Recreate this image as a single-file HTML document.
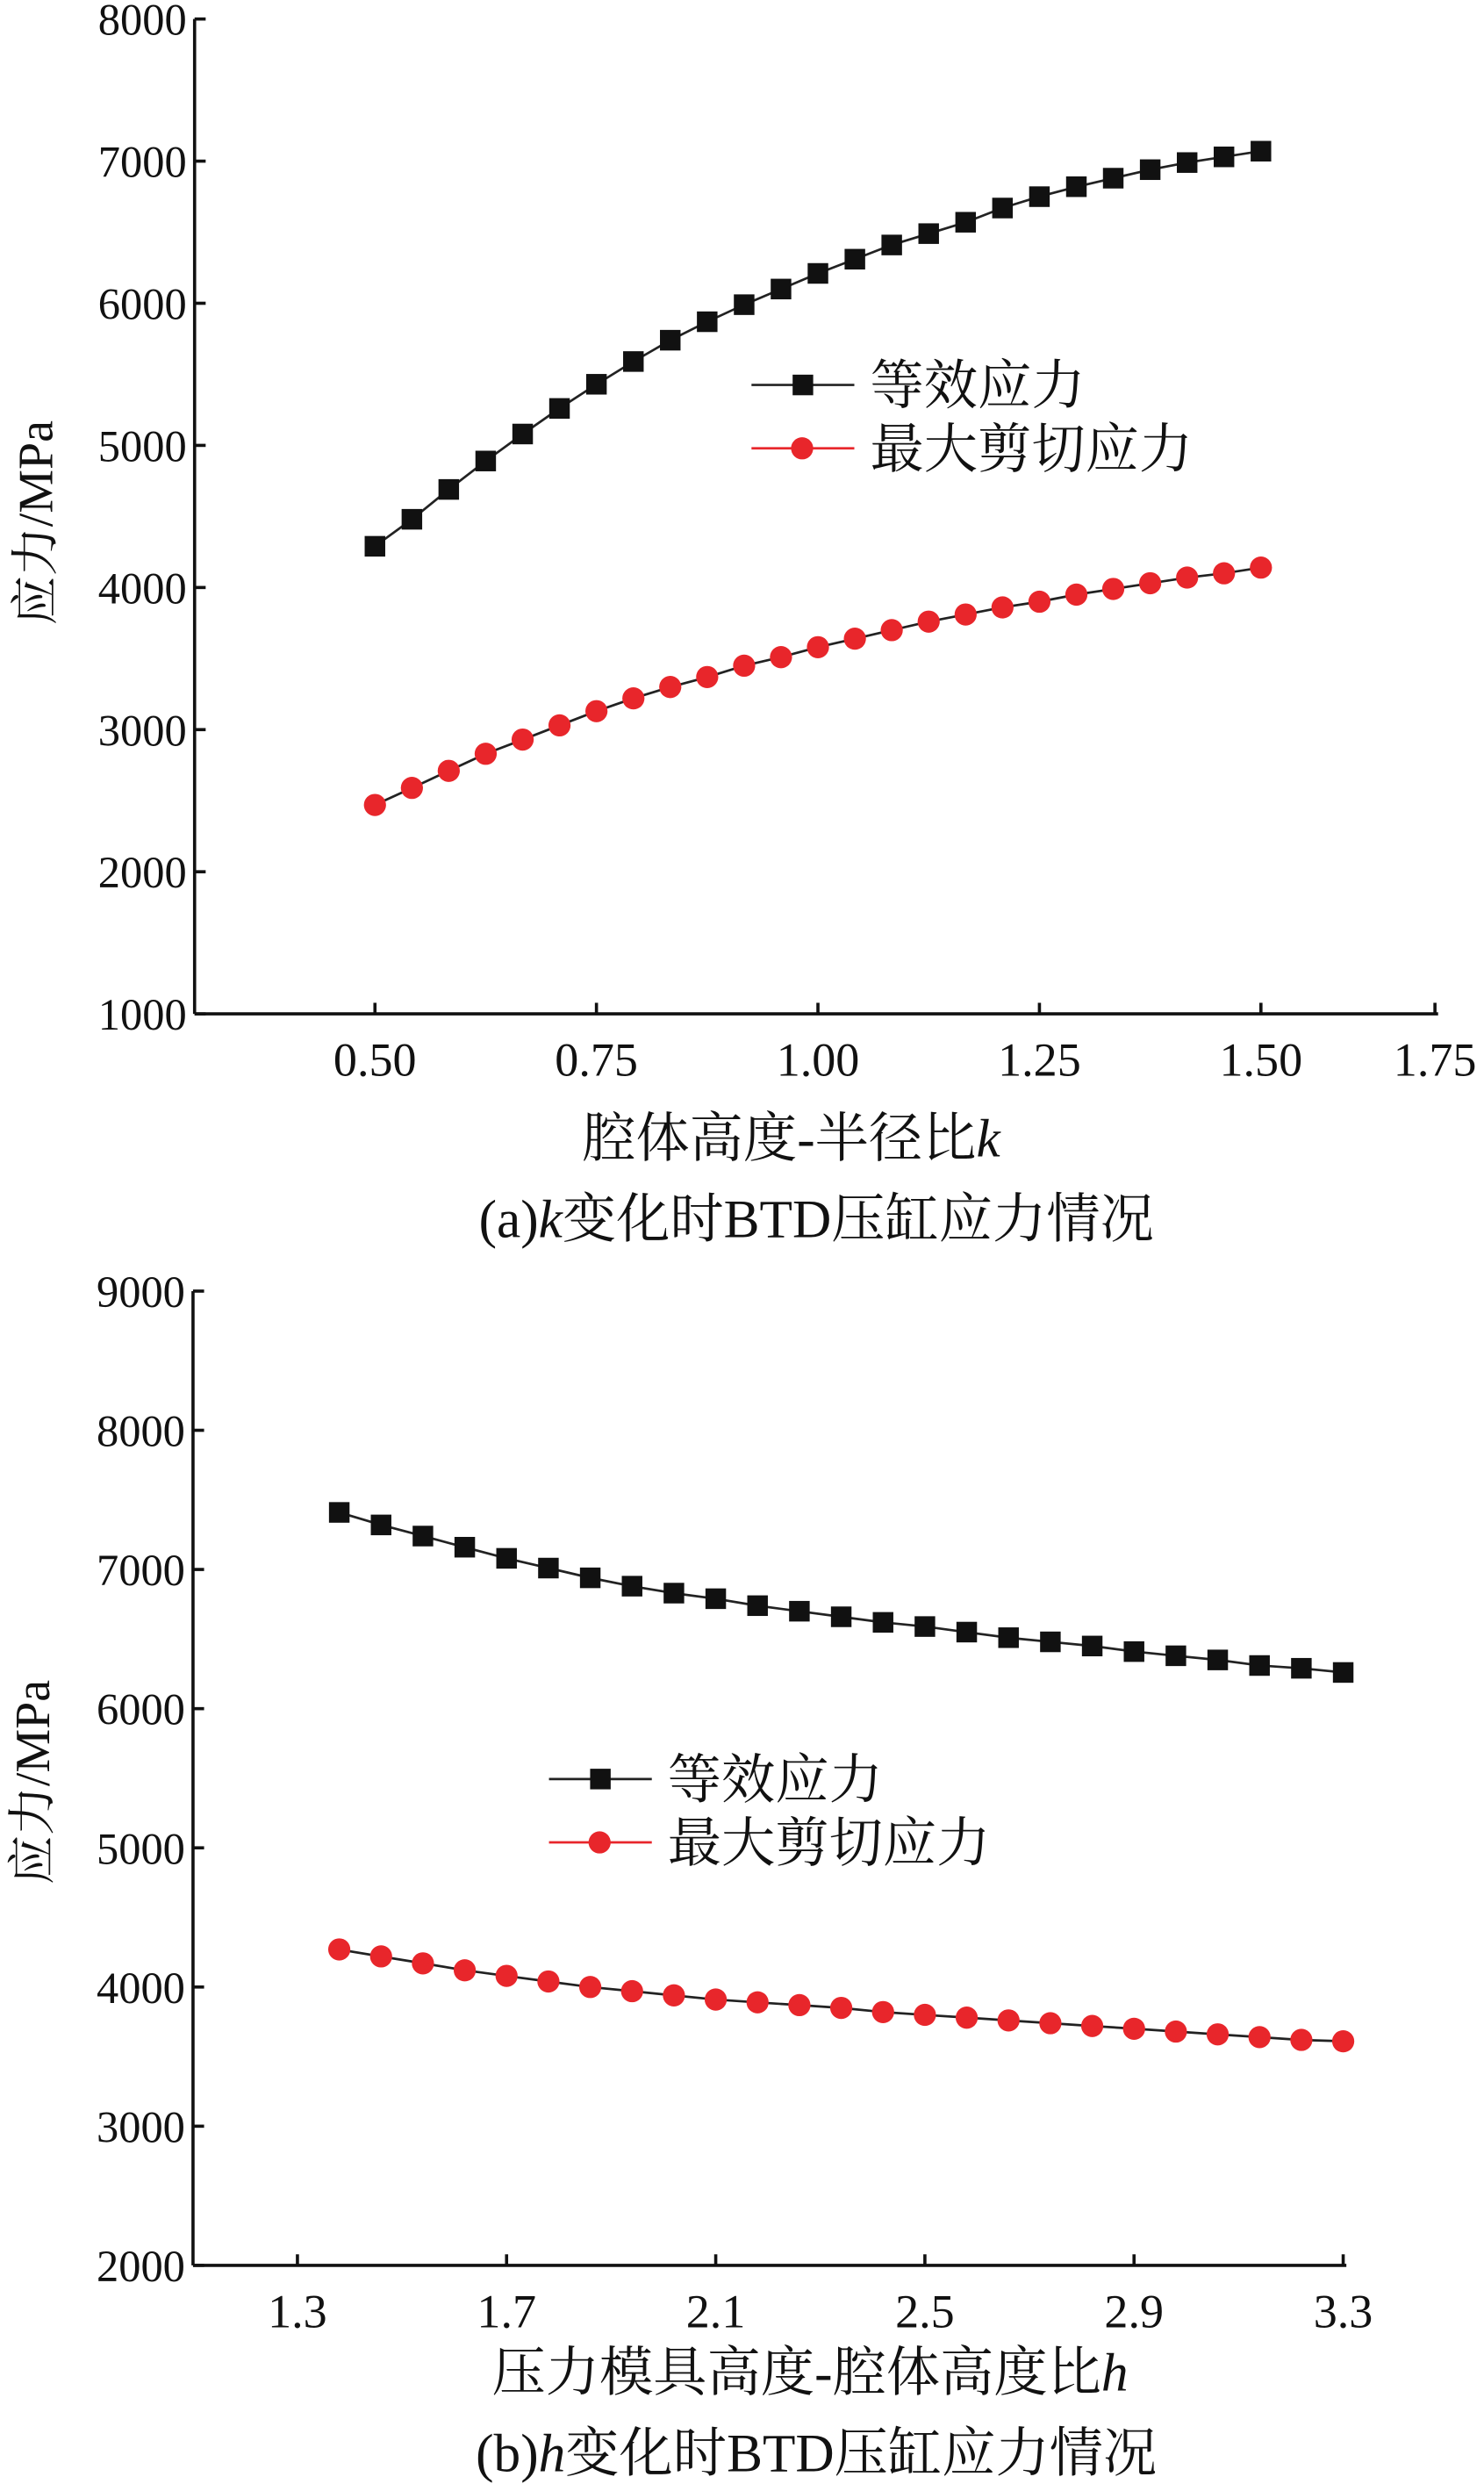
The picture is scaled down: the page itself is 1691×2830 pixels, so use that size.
<!DOCTYPE html>
<html><head><meta charset="utf-8"><style>
html,body{margin:0;padding:0;background:#fff;}
svg{display:block;}
text{font-family:"Liberation Serif","Noto Serif CJK SC",serif;fill:#111;}
.cjk{font-family:"Liberation Serif","Noto Serif CJK SC","Noto Sans CJK SC",serif;}
</style></head><body>
<svg id="fig" width="1691" height="2830" viewBox="0 0 938 1568" preserveAspectRatio="none" xmlns="http://www.w3.org/2000/svg"></svg>
<script>
const kValues = [0.5,0.5417,0.5833,0.625,0.6667,0.7083,0.75,0.7917,0.8333,0.875,0.9167,0.9583,1.0,1.0417,1.0833,1.125,1.1667,1.2083,1.25,1.2917,1.3333,1.375,1.4167,1.4583,1.5];
const aEquiv = [4290,4480,4690,4890,5080,5260,5430,5590,5740,5870,5990,6100,6210,6310,6410,6490,6570,6670,6750,6820,6880,6940,6990,7030,7070];
const aShear = [2470,2590,2710,2830,2930,3030,3130,3220,3300,3370,3450,3510,3580,3640,3700,3760,3810,3860,3900,3950,3990,4030,4070,4100,4140];
const aXTicks = ["0.50","0.75","1.00","1.25","1.50","1.75"];
const aYTicks = [1000,2000,3000,4000,5000,6000,7000,8000];

const hValues = [1.38,1.46,1.54,1.62,1.70,1.78,1.86,1.94,2.02,2.10,2.18,2.26,2.34,2.42,2.50,2.58,2.66,2.74,2.82,2.90,2.98,3.06,3.14,3.22,3.30];
const bEquiv = [7410,7320,7240,7160,7080,7010,6940,6880,6830,6790,6740,6700,6660,6620,6590,6550,6510,6480,6450,6410,6380,6350,6310,6290,6260];
const bShear = [4270,4220,4170,4120,4080,4040,4000,3970,3940,3910,3890,3870,3850,3820,3800,3780,3760,3740,3720,3700,3680,3660,3640,3620,3610];
const bXTicks = ["1.3","1.7","2.1","2.5","2.9","3.3"];
const bYTicks = [2000,3000,4000,5000,6000,7000,8000,9000];

const svg = document.getElementById('fig');
const NS = 'http://www.w3.org/2000/svg';
function mk(tag, attrs, parent){
  const e = document.createElementNS(NS, tag);
  for (const k in attrs) e.setAttribute(k, attrs[k]);
  (parent||svg).appendChild(e);
  return e;
}

function chart(o){
  const g = mk('g', {});
  
  
  const xs = v => o.x0 + (v - o.xmin) / (o.xmax - o.xmin) * (o.x1 - o.x0);
  const ys = v => o.y0 + (v - o.ymin) / (o.ymax - o.ymin) * (o.y1 - o.y0);
  const ya = mk('line', {x1:o.ax, y1:ys(o.ymax), x2:o.ax, y2:ys(o.ymin), stroke:'#111','stroke-width':2}, g);
  
  
  const xa = mk('line', {x1:o.ax, y1:ys(o.ymin), x2:o.axEnd, y2:ys(o.ymin), stroke:'#111','stroke-width':2}, g);
  
  
  o.yTicks.forEach(v => {
    mk('line', {x1:o.ax, y1:ys(v), x2:o.ax+7, y2:ys(v), stroke:'#111','stroke-width':2}, g);
    const t = mk('text', {x:o.ax-5, y:ys(v)+10, 'text-anchor':'end','font-size':28}, g);
    t.textContent = v;
    
    
  });
  o.xTicks.forEach(s => {
    const v = parseFloat(s);
    const px = Math.min(xs(v), o.axEnd - 2);
    mk('line', {x1:px, y1:ys(o.ymin), x2:px, y2:ys(o.ymin)-7, stroke:'#111','stroke-width':2}, g);
    const t = mk('text', {x:px, y:ys(o.ymin)+39, 'text-anchor':'middle','font-size':30}, g);
    t.textContent = s;
    
    
  });
  function series(vals, color, shape, nm){
    const sg = mk('g', {}, g);
    
    
    const pts = o.xv.map((x,i) => xs(x).toFixed(1)+','+ys(vals[i]).toFixed(1)).join(' ');
    mk('polyline', {points:pts, fill:'none', stroke:'#222','stroke-width':1.5}, sg);
    o.xv.forEach((x,i) => {
      let m;
      if (shape === 'sq') m = mk('rect', {x:xs(x)-6.5, y:ys(vals[i])-6.5, width:13, height:13, fill:color}, sg);
      else m = mk('circle', {cx:xs(x), cy:ys(vals[i]), r:7, fill:color}, sg);
      
      
    });
  }
  series(o.eq, '#111', 'sq', 'equivalent-stress-series');
  series(o.sh, '#e8262b', 'ci', 'max-shear-stress-series');
  const lg = mk('g', {}, g);
  
  
  mk('line', {x1:o.lx, y1:o.ly, x2:o.lx+65, y2:o.ly, stroke:'#222','stroke-width':1.5}, lg);
  mk('rect', {x:o.lx+26, y:o.ly-6.5, width:13, height:13, fill:'#111'}, lg);
  const t1 = mk('text', {x:o.lx+75, y:o.ly+12, 'font-size':34, class:'cjk'}, lg);
  t1.textContent = '等效应力';
  
  
  mk('line', {x1:o.lx, y1:o.ly+40, x2:o.lx+65, y2:o.ly+40, stroke:'#e8262b','stroke-width':1.5}, lg);
  mk('circle', {cx:o.lx+32, cy:o.ly+40, r:7, fill:'#e8262b'}, lg);
  const t2 = mk('text', {x:o.lx+75, y:o.ly+52, 'font-size':34, class:'cjk'}, lg);
  t2.textContent = '最大剪切应力';
  
  
  const yt = mk('text', {x:0, y:0, 'font-size':31, class:'cjk', 'text-anchor':'middle', transform:`translate(${o.ytx},${o.yty}) rotate(-90)`}, g);
  yt.textContent = '应力/MPa';
  
  
  const xt = mk('text', {x:o.xtx, y:o.xty, 'font-size':34, class:'cjk', 'text-anchor':'middle'}, g);
  xt.innerHTML = o.xtitle;
  
  
  const cp = mk('text', {x:o.ctx, y:o.cty, 'font-size':34, class:'cjk', 'text-anchor':'middle'}, g);
  cp.innerHTML = o.caption;
  
  
}

chart({name:'chart-a', xv:kValues, eq:aEquiv, sh:aShear, xTicks:aXTicks, yTicks:aYTicks,
  xmin:0.5, xmax:1.5, x0:237, x1:797, ymin:1000, ymax:8000, y0:640, y1:12,
  ax:123, axEnd:909, lx:475, ly:243, ytx:33, yty:330,
  xtx:500, xty:730, xtitle:'腔体高度-半径比<tspan font-style="italic">k</tspan>',
  ctx:516, cty:781, caption:'(a)<tspan font-style="italic">k</tspan>变化时BTD压缸应力情况'});

chart({name:'chart-b', xv:hValues, eq:bEquiv, sh:bShear, xTicks:bXTicks, yTicks:bYTicks,
  xmin:1.3, xmax:3.3, x0:188, x1:849, ymin:2000, ymax:9000, y0:1430, y1:815,
  ax:122, axEnd:851, lx:347, ly:1123, ytx:31, yty:1125,
  xtx:512, xty:1509, xtitle:'压力模具高度-腔体高度比<tspan font-style="italic">h</tspan>',
  ctx:516, cty:1560, caption:'(b)<tspan font-style="italic">h</tspan>变化时BTD压缸应力情况'});
</script>
</body></html>
